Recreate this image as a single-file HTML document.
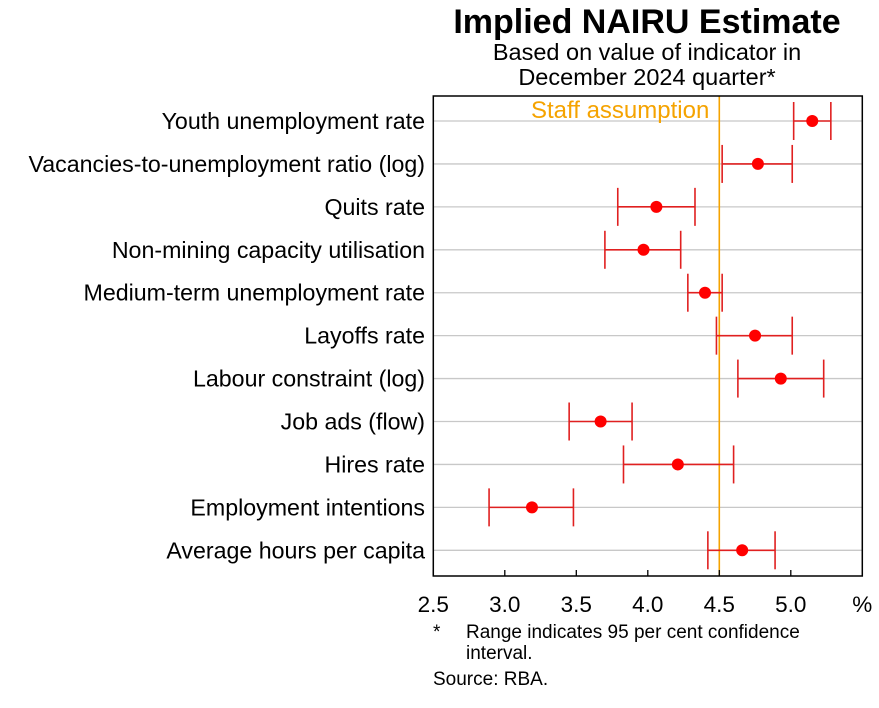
<!DOCTYPE html>
<html><head><meta charset="utf-8"><style>
html,body{margin:0;padding:0;background:#fff;}
svg text{font-family:"Liberation Sans",Arial,sans-serif;}
</style></head><body>
<svg id="chart" width="879" height="703" viewBox="0 0 879 703" xmlns="http://www.w3.org/2000/svg">
<text x="647" y="33" font-size="34" font-weight="bold" text-anchor="middle">Implied NAIRU Estimate</text>
<text x="647" y="60" font-size="23.5" text-anchor="middle">Based on value of indicator in</text>
<text x="647" y="85" font-size="23.5" text-anchor="middle">December 2024 quarter*</text>
<g id="grid"></g>
<g id="marks"></g>
<rect x="433.3" y="96" width="429" height="480" fill="none" stroke="#000" stroke-width="1.5"/>
<g id="axis"></g>
<text x="433" y="638" font-size="19">*</text>
<text x="466" y="638" font-size="19">Range indicates 95 per cent confidence</text>
<text x="466" y="659" font-size="19">interval.</text>
<text x="433" y="685" font-size="19">Source:  RBA.</text>
</svg>
<script>
const categories = ["Youth unemployment rate","Vacancies-to-unemployment ratio (log)","Quits rate","Non-mining capacity utilisation","Medium-term unemployment rate","Layoffs rate","Labour constraint (log)","Job ads (flow)","Hires rate","Employment intentions","Average hours per capita"];
const estimates = [5.15,4.77,4.06,3.97,4.40,4.75,4.93,3.67,4.21,3.19,4.66];
const lowerBounds = [5.02,4.52,3.79,3.70,4.28,4.48,4.63,3.45,3.83,2.89,4.42];
const upperBounds = [5.28,5.01,4.33,4.23,4.52,5.01,5.23,3.89,4.60,3.48,4.89];
const xTicks = [2.5,3.0,3.5,4.0,4.5,5.0];
const xTickLabels = ["2.5","3.0","3.5","4.0","4.5","5.0"];
const staffAssumption = 4.5;

const NS="http://www.w3.org/2000/svg";
const L=433.3,R=862.3,T=96,B=576;
const xS=v=>L+(v-2.5)/3*(R-L);
const yS=i=>121+i*42.93;
function mk(tag,attrs,parent){const e=document.createElementNS(NS,tag);for(const k in attrs)e.setAttribute(k,attrs[k]);parent.appendChild(e);return e;}
const grid=document.getElementById('grid'),marks=document.getElementById('marks'),axis=document.getElementById('axis'),svg=document.getElementById('chart');
categories.forEach((c,i)=>{
  const y=yS(i);
  const g=mk('line',{x1:L,x2:R,y1:y,y2:y,stroke:'#c8c8c8','stroke-width':1.3},grid);
  
  
  const t=mk('text',{x:425,y:y+8,'font-size':23.2,'text-anchor':'end'},svg);
  t.textContent=c;
  
  
});
const sl=mk('line',{x1:xS(staffAssumption),x2:xS(staffAssumption),y1:T,y2:B,stroke:'#f5a300','stroke-width':1.6},marks);


const st=mk('text',{x:xS(staffAssumption)-10,y:118,'font-size':24,fill:'#f5a300','text-anchor':'end'},marks);
st.textContent='Staff assumption';


categories.forEach((c,i)=>{
  const y=yS(i),a=xS(lowerBounds[i]),b=xS(upperBounds[i]);
  const g=mk('g',{stroke:'#e02020','stroke-width':1.6},marks);
  
  
  mk('line',{x1:a,x2:b,y1:y,y2:y},g);
  mk('line',{x1:a,x2:a,y1:y-19,y2:y+19},g);
  mk('line',{x1:b,x2:b,y1:y-19,y2:y+19},g);
  const d=mk('circle',{cx:xS(estimates[i]),cy:y,r:6,fill:'#f00'},marks);
  
  
});
xTicks.forEach((v,i)=>{
  const x=xS(v);
  const tk=mk('line',{x1:x,x2:x,y1:B,y2:B-6,stroke:'#000','stroke-width':1.3},axis);
  
  
  const t=mk('text',{x:x,y:612,'font-size':22.5,'text-anchor':'middle'},axis);
  t.textContent=xTickLabels[i];
  
  
});
const pu=mk('text',{x:R,y:612,'font-size':22.5,'text-anchor':'middle'},axis);
pu.textContent='%';


</script>
</body></html>
